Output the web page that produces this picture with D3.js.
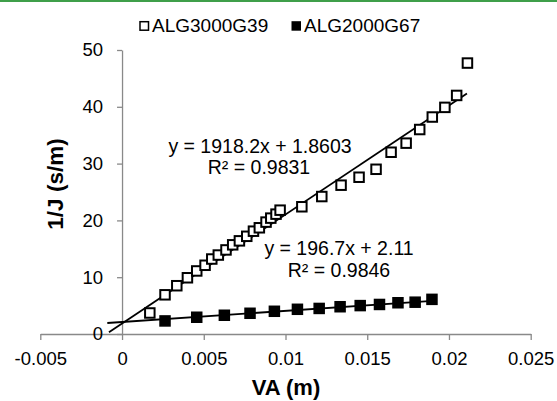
<!DOCTYPE html>
<html>
<head>
<meta charset="utf-8">
<script src="https://cdn.jsdelivr.net/npm/d3@7"></script>
<style>
  html, body { margin: 0; padding: 0; background: #fff; }
  svg { display: block; font-family: "Liberation Sans", Arial, sans-serif; }
</style>
</head>
<body>
<svg id="chart" width="557" height="401"></svg>
<script>
// ---- data ----
const seriesNames = ["ALG3000G39", "ALG2000G67"];
const openX = [0.0017, 0.00263, 0.00335, 0.0040, 0.00457, 0.00508, 0.00549, 0.00589, 0.00636, 0.00677,
               0.00718, 0.00763, 0.00804, 0.0084, 0.00881, 0.0091, 0.00942, 0.00967,
               0.0110, 0.01222, 0.0134, 0.0145, 0.01554, 0.01646, 0.01738, 0.01821, 0.01898, 0.01975, 0.02047, 0.02113];
const openY = [3.7, 6.9, 8.5, 9.9, 11.1, 12.1, 13.2, 13.9, 14.8, 15.7,
               16.4, 17.2, 18.1, 18.7, 19.7, 20.4, 21.1, 21.8,
               22.4, 24.2, 26.2, 27.6, 29.0, 32.0, 33.6, 36.0, 38.2, 39.9, 42.0, 47.7];
const filledX = [0.00263, 0.00457, 0.00626, 0.00783, 0.00932, 0.01073, 0.01206, 0.01334, 0.01457, 0.01575, 0.01688, 0.01793, 0.01896];
const filledY = [2.3, 2.95, 3.3, 3.65, 4.0, 4.35, 4.5, 4.8, 5.0, 5.2, 5.5, 5.6, 6.1];
// trendlines: [slope, intercept, xStart, xEnd]
const trendOpen = [1918.2, 1.8603, -0.0008, 0.0211];
const trendFilled = [196.7, 2.11, -0.0009, 0.019];
const eqOpen = ["y = 1918.2x + 1.8603", "R² = 0.9831"];
const eqFilled = ["y = 196.7x + 2.11", "R² = 0.9846"];
const xTicks = [-0.005, 0, 0.005, 0.01, 0.015, 0.02, 0.025];
const yTicks = [0, 10, 20, 30, 40, 50];
const xTitle = "VA (m)";
const yTitle = "1/J (s/m)";

// ---- drawing ----
const svg = d3.select("#chart");
const x = d3.scaleLinear().domain([-0.005, 0.025]).range([40.3, 530.7]);
const y = d3.scaleLinear().domain([0, 50]).range([334, 50]);
const axisColor = "#898989";

// top green rule
svg.append("rect").attr("x", 0).attr("y", 0).attr("width", 557).attr("height", 2).attr("fill", "#3f9f4a");

// x axis
const gx = svg.append("g").attr("transform", `translate(0,${y(0)})`)
  .call(d3.axisBottom(x).tickValues(xTicks).tickSize(6).tickSizeOuter(0).tickPadding(12)
        .tickFormat(d => String(+d.toFixed(3))));
gx.select(".domain").attr("stroke", axisColor).attr("stroke-width", 1.3);
gx.selectAll(".tick line").attr("stroke", axisColor).attr("stroke-width", 1.3);
gx.selectAll(".tick text").attr("fill", "#000").style("font-size", "18.5px")
  .style("font-family", "'Liberation Sans', Arial, sans-serif");

// y axis
const gy = svg.append("g").attr("transform", `translate(${x(0)},0)`)
  .call(d3.axisLeft(y).tickValues(yTicks).tickSize(5).tickSizeOuter(0).tickPadding(14));
gy.select(".domain").attr("stroke", axisColor).attr("stroke-width", 1.3);
gy.selectAll(".tick line").attr("stroke", axisColor).attr("stroke-width", 1.3);
gy.selectAll(".tick text").attr("fill", "#000").style("font-size", "18.5px")
  .style("font-family", "'Liberation Sans', Arial, sans-serif");

// trendlines
function trend(t) {
  const [m, b, x0, x1] = t;
  svg.append("line")
    .attr("x1", x(x0)).attr("y1", y(m * x0 + b))
    .attr("x2", x(x1)).attr("y2", y(m * x1 + b))
    .attr("stroke", "#000").attr("stroke-width", 1.8);
}
trend(trendOpen);
trend(trendFilled);

// markers
const s = 9.5;
svg.append("g").selectAll("rect").data(openX.map((d, i) => [d, openY[i]])).join("rect")
  .attr("x", d => x(d[0]) - s / 2).attr("y", d => y(d[1]) - s / 2)
  .attr("width", s).attr("height", s)
  .attr("fill", "#fff").attr("stroke", "#000").attr("stroke-width", 2);
const sf = 10;
svg.append("g").selectAll("rect").data(filledX.map((d, i) => [d, filledY[i]])).join("rect")
  .attr("x", d => x(d[0]) - sf / 2).attr("y", d => y(d[1]) - sf / 2)
  .attr("width", sf).attr("height", sf)
  .attr("fill", "#000").attr("stroke", "#000").attr("stroke-width", 1.5);

// equations
const eqStyle = sel => sel.attr("text-anchor", "middle").style("font-size", "19.5px").attr("fill", "#000");
svg.append("text").attr("x", 260).attr("y", 153).text(eqOpen[0]).call(eqStyle);
svg.append("text").attr("x", 259).attr("y", 174).text(eqOpen[1]).call(eqStyle);
svg.append("text").attr("x", 339).attr("y", 255).text(eqFilled[0]).call(eqStyle);
svg.append("text").attr("x", 339).attr("y", 277).text(eqFilled[1]).call(eqStyle);

// legend
const lg = svg.append("g");
lg.append("rect").attr("x", 140).attr("y", 21.7).attr("width", 8.5).attr("height", 8.5)
  .attr("fill", "#fff").attr("stroke", "#000").attr("stroke-width", 1.5);
lg.append("text").attr("x", 152).attr("y", 32).text(seriesNames[0]).style("font-size", "19px");
lg.append("rect").attr("x", 291.5).attr("y", 21.2).attr("width", 9.5).attr("height", 9.5).attr("fill", "#000");
lg.append("text").attr("x", 304).attr("y", 32).text(seriesNames[1]).style("font-size", "19px");

// axis titles
svg.append("text").attr("x", 286).attr("y", 395).attr("text-anchor", "middle")
  .style("font-size", "22px").style("font-weight", "bold").text(xTitle);
svg.append("text").attr("transform", "translate(63,184) rotate(-90)").attr("text-anchor", "middle")
  .style("font-size", "22.5px").style("font-weight", "bold").text(yTitle);
</script>
</body>
</html>
